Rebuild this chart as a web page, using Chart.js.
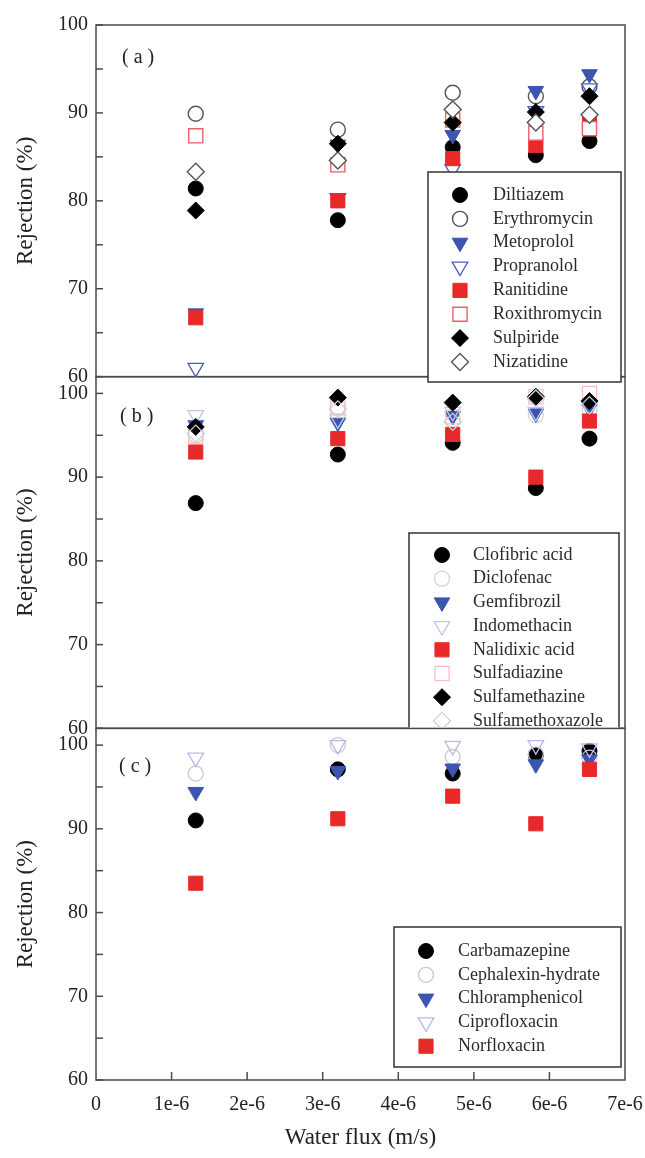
<!DOCTYPE html>
<html>
<head>
<meta charset="utf-8">
<script src="https://cdn.jsdelivr.net/npm/chart.js@4.4.1/dist/chart.umd.min.js"></script>
<style>
  html, body { margin: 0; padding: 0; background: #fff; }
  #wrap { position: relative; width: 645px; height: 1158px; }
</style>
</head>
<body>
<div id="wrap"><canvas id="chart"></canvas></div>
<script>
// water flux of the five runs (m/s), shared by all three panels
const flux = [1.32e-6, 3.2e-6, 4.72e-6, 5.82e-6, 6.53e-6];
const xTicks = [0, 1e-6, 2e-6, 3e-6, 4e-6, 5e-6, 6e-6, 7e-6];
const yTicks = [60, 70, 80, 90, 100];
const yMinor = [60, 65, 70, 75, 80, 85, 90, 95, 100];

// (a) rejection %
const diltiazem     = [81.4, 77.8, 86.1, 85.2, 86.8];
const erythromycin  = [89.9, 88.1, 92.3, 91.9, 93.0];
const metoprolol    = [67.2, 86.4, 87.5, 92.5, 94.4];
const propranolol   = [61.0, 80.3, 83.6, 90.2, 92.8];
const ranitidine    = [66.7, 80.0, 84.8, 86.3, 88.7];
const roxithromycin = [87.4, 84.1, 89.2, 87.7, 88.2];
const sulpiride     = [78.9, 86.5, 88.9, 90.1, 91.9];
const nizatidine    = [83.3, 84.6, 90.4, 88.9, 89.8];

// (b)
const clofibricAcid    = [86.9, 92.7, 94.1, 88.7, 94.6];
const diclofenac       = [95.0, 98.3, 96.8, 97.4, 98.0];
const gemfibrozil      = [96.2, 96.5, 97.3, 97.6, 98.2];
const indomethacin     = [97.4, 96.9, 97.8, 97.8, 98.4];
const nalidixicAcid    = [93.0, 94.6, 95.1, 90.0, 96.7];
const sulfadiazine     = [94.9, 98.4, 97.2, 99.6, 100.0];
const sulfamethazine   = [96.0, 99.5, 98.9, 99.6, 99.1];
const sulfamethoxazole = [95.2, 98.1, 96.6, 99.4, 98.6];

// (c)
const carbamazepine  = [91.0, 97.1, 96.6, 98.8, 99.3];
const cephalexin     = [96.6, 100.0, 98.6, 98.9, 98.5];
const chloramphenicol = [94.4, 96.9, 97.2, 97.7, 98.3];
const ciprofloxacin  = [98.5, 100.0, 99.9, 100.0, 99.6];
const norfloxacin    = [83.5, 91.2, 93.9, 90.6, 97.1];

const BLUE = '#3b55b0', RED = '#e8292a';
function mk(style, fill, stroke, bw) {
  const size = { circle: 7.5, tri: 9, rect: 10, rectRot: 8.5 }[style];
  return {
    pointStyle: style === 'tri' ? 'triangle' : style,
    rotation: style === 'tri' ? 180 : 0,
    radius: size, fill: fill, stroke: stroke, bw: bw || 1
  };
}
const NONE = 'rgba(255,255,255,0)';

const seriesA = [
  { label: 'Diltiazem', values: diltiazem, m: mk('circle', '#000', '#000') },
  { label: 'Erythromycin', values: erythromycin, m: mk('circle', '#fff', '#555', 1.4) },
  { label: 'Metoprolol', values: metoprolol, m: mk('tri', BLUE, BLUE) },
  { label: 'Propranolol', values: propranolol, m: mk('tri', '#fff', '#4a5cc0', 1.3) },
  { label: 'Ranitidine', values: ranitidine, m: mk('rect', RED, RED) },
  { label: 'Roxithromycin', values: roxithromycin, m: mk('rect', '#fff', '#ef5f69', 1.4) },
  { label: 'Sulpiride', values: sulpiride, m: mk('rectRot', '#000', '#000') },
  { label: 'Nizatidine', values: nizatidine, m: mk('rectRot', '#fff', '#555', 1.4) }
];
const seriesB = [
  { label: 'Clofibric acid', values: clofibricAcid, m: mk('circle', '#000', '#000') },
  { label: 'Diclofenac', values: diclofenac, m: mk('circle', NONE, '#d4d4d4', 1.3) },
  { label: 'Gemfibrozil', values: gemfibrozil, m: mk('tri', BLUE, BLUE) },
  { label: 'Indomethacin', values: indomethacin, m: mk('tri', NONE, '#c2c5ec', 1.3) },
  { label: 'Nalidixic acid', values: nalidixicAcid, m: mk('rect', RED, RED) },
  { label: 'Sulfadiazine', values: sulfadiazine, m: mk('rect', NONE, '#f5c0c5', 1.3) },
  { label: 'Sulfamethazine', values: sulfamethazine, m: mk('rectRot', '#000', '#000') },
  { label: 'Sulfamethoxazole', values: sulfamethoxazole, m: mk('rectRot', NONE, '#d0d0d0', 1.3) }
];
const seriesC = [
  { label: 'Carbamazepine', values: carbamazepine, m: mk('circle', '#000', '#000') },
  { label: 'Cephalexin-hydrate', values: cephalexin, m: mk('circle', NONE, '#c9c9c9', 1.3) },
  { label: 'Chloramphenicol', values: chloramphenicol, m: mk('tri', BLUE, BLUE) },
  { label: 'Ciprofloxacin', values: ciprofloxacin, m: mk('tri', NONE, '#b8bbe6', 1.3) },
  { label: 'Norfloxacin', values: norfloxacin, m: mk('rect', RED, RED) }
];

const panels = [
  { id: 'ya', tag: '( a )', series: seriesA, max: 100, tagX: 122, tagDy: 33,
    box: [428, 172, 621, 382], markX: 460, textX: 493, rowY: 195, step: 23.85 },
  { id: 'yb', tag: '( b )', series: seriesB, max: 102, tagX: 120, tagDy: 40, clip: true,
    box: [409, 533, 619, 745], markX: 442, textX: 473, rowY: 555, step: 23.7 },
  { id: 'yc', tag: '( c )', series: seriesC, max: 102, tagX: 119, tagDy: 38,
    box: [394, 927, 621, 1067], markX: 426, textX: 458, rowY: 951, step: 23.8 }
];

const SERIF = '"Liberation Serif", "Times New Roman", serif';
Chart.defaults.font.family = SERIF;
Chart.defaults.color = '#222';

let datasets = [];
panels.forEach(p => {
  p.series.forEach(s => {
    datasets.push({
      label: s.label,
      yAxisID: p.id,
      data: flux.map((x, i) => ({ x: x, y: s.values[i] })),
      pointStyle: s.m.pointStyle,
      pointRotation: s.m.rotation,
      pointRadius: s.m.radius,
      pointHoverRadius: s.m.radius,
      backgroundColor: s.m.fill,
      borderColor: s.m.stroke,
      borderWidth: s.m.bw,
      showLine: false
    });
  });
});
// later series sit on top of earlier ones
datasets.forEach((d, i) => { d.order = -i; });

function yScale(p) {
  return {
    type: 'linear', position: 'left', stack: 'rej', stackWeight: 1,
    min: 60, max: p.max,
    afterBuildTicks: s => { s.ticks = yTicks.map(v => ({ value: v })); },
    afterFit: s => { s.width = 96; s.paddingTop = 0; s.paddingBottom = 0; },
    ticks: { font: { size: 20 }, padding: 8, color: '#222' },
    grid: { display: false, drawTicks: false },
    border: { display: false },
    title: { display: true, text: 'Rejection (%)', font: { size: 23 }, color: '#222',
             padding: { top: 12, bottom: 0 } }
  };
}

const framePlugin = {
  id: 'frame',
  beforeDatasetsDraw(chart) {
    const { ctx, chartArea, scales } = chart;
    ctx.save();
    ctx.strokeStyle = '#4a4a4a';
    ctx.lineWidth = 1.5;
    panels.forEach(p => {
      const s = scales[p.id];
      ctx.strokeRect(chartArea.left, s.top, chartArea.right - chartArea.left, s.bottom - s.top);
      yMinor.forEach(v => {
        const y = s.getPixelForValue(v);
        ctx.beginPath();
        ctx.moveTo(chartArea.left, y);
        ctx.lineTo(chartArea.left + 7, y);
        ctx.stroke();
      });
      ctx.fillStyle = '#222';
      ctx.font = '20px ' + SERIF;
      ctx.textBaseline = 'middle';
      ctx.fillText(p.tag, p.tagX, s.top + p.tagDy);
    });
    const x = scales.x;
    xTicks.slice(1, -1).forEach(v => {
      const px = x.getPixelForValue(v);
      ctx.beginPath();
      ctx.moveTo(px, chartArea.bottom);
      ctx.lineTo(px, chartArea.bottom - 8);
      ctx.stroke();
    });
    ctx.restore();
  },
  afterDatasetsDraw(chart) {
    const { ctx, scales } = chart;
    panels.forEach(p => {
      const [l, t, r, b] = p.box;
      ctx.save();
      if (p.clip) {
        ctx.beginPath();
        ctx.rect(0, 0, chart.width, scales[p.id].bottom - 0.8);
        ctx.clip();
      }
      ctx.fillStyle = '#fff';
      ctx.fillRect(l, t, r - l, b - t);
      ctx.strokeStyle = '#333';
      ctx.lineWidth = 1.5;
      ctx.strokeRect(l, t, r - l, b - t);
      p.series.forEach((s, i) => {
        const y = p.rowY + i * p.step;
        ctx.fillStyle = s.m.fill;
        ctx.strokeStyle = s.m.stroke;
        ctx.lineWidth = s.m.bw;
        Chart.helpers.drawPoint(ctx, {
          pointStyle: s.m.pointStyle, rotation: s.m.rotation,
          radius: s.m.radius, borderWidth: s.m.bw
        }, p.markX, y);
        ctx.fillStyle = '#2a2a2a';
        ctx.font = '18px ' + SERIF;
        ctx.textBaseline = 'middle';
        ctx.textAlign = 'left';
        ctx.fillText(s.label, p.textX, y);
      });
      ctx.restore();
    });
  }
};

const ctx = document.getElementById('chart').getContext('2d');
new Chart(ctx, {
  type: 'scatter',
  data: { datasets: datasets },
  options: {
    responsive: true,
    maintainAspectRatio: false,
    animation: false,
    events: [],
    layout: { padding: { top: 25, right: 20, left: 0, bottom: 0 } },
    plugins: { legend: { display: false }, tooltip: { enabled: false } },
    scales: {
      x: {
        type: 'linear', position: 'bottom', min: 0, max: 7e-6,
        afterBuildTicks: s => { s.ticks = xTicks.map(v => ({ value: v })); },
        afterFit: s => { s.height = 78; s.paddingLeft = 0; s.paddingRight = 0; },
        ticks: {
          font: { size: 20 }, padding: 13, color: '#222', maxRotation: 0, autoSkip: false,
          callback: v => v === 0 ? '0' : Math.round(v * 1e6) + 'e-6'
        },
        grid: { display: false, drawTicks: false },
        border: { display: false },
        title: { display: true, text: 'Water flux (m/s)', font: { size: 23 }, color: '#222',
                 padding: { top: 0, bottom: 6 } }
      },
      // stacked left axes: the last one listed ends up on top
      yc: yScale(panels[2]),
      yb: yScale(panels[1]),
      ya: yScale(panels[0])
    }
  },
  plugins: [framePlugin]
});
</script>
</body>
</html>
